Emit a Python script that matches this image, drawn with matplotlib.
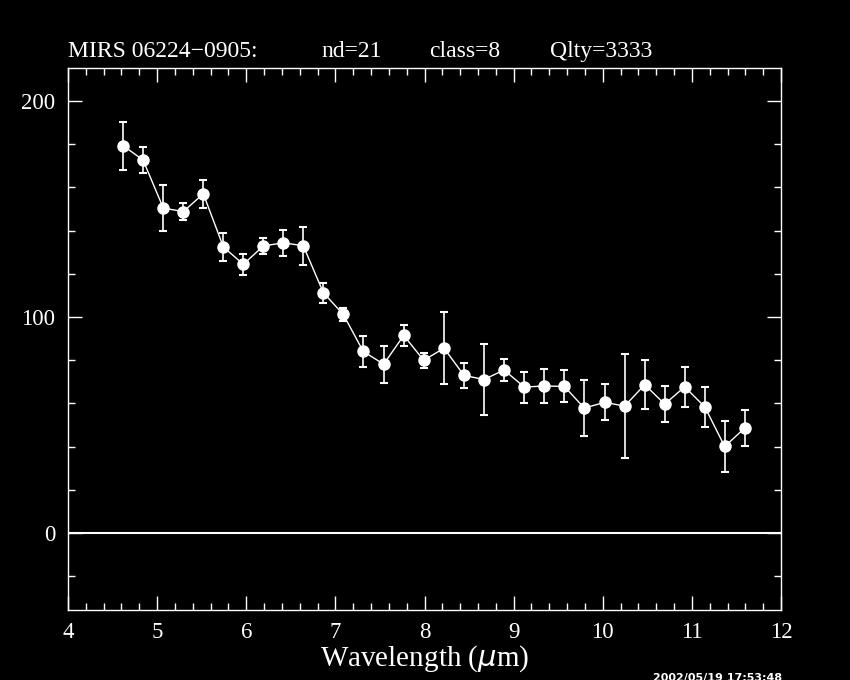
import numpy as np
import matplotlib.pyplot as plt
from matplotlib.ticker import MultipleLocator

# spectrum
wavelength = [4.620, 4.842, 5.069, 5.294, 5.518, 5.743, 5.967, 6.191, 6.416, 6.640,
              6.865, 7.089, 7.313, 7.542, 7.767, 7.991, 8.219, 8.443, 8.668, 8.892,
              9.120, 9.344, 9.569, 9.793, 10.022, 10.246, 10.471, 10.695, 10.919,
              11.144, 11.368, 11.593]
flux = [179.3, 172.7, 150.5, 148.8, 157.1, 132.5, 124.4, 132.9, 134.4, 133.0,
        111.3, 101.2, 84.1, 78.2, 91.5, 80.0, 85.6, 73.0, 71.1, 75.5,
        67.6, 68.1, 67.9, 57.9, 60.5, 58.8, 68.7, 59.7, 67.7, 58.5, 40.1, 48.6]
flux_err = [11.0, 6.2, 10.8, 3.8, 6.4, 6.5, 5.0, 3.8, 6.1, 8.9,
            4.6, 3.1, 7.0, 8.5, 5.0, 3.5, 16.7, 5.8, 16.5, 4.9,
            7.2, 8.0, 7.4, 12.8, 8.3, 24.0, 11.4, 8.5, 9.2, 9.3, 12.0, 8.4]

title_parts = ["MIRS 06224\u22120905:", "nd=21", "class=8", "Qlty=3333"]
title_x = [68, 321, 429, 550]   # left edge of each piece, px
stamp = "2002/05/19 17:53:48"

plt.rcParams['font.family'] = ['Liberation Serif', 'DejaVu Serif']

W, H = 850, 680
fig = plt.figure(figsize=(8.5, 6.8), dpi=100, facecolor='black')
ax = fig.add_axes([68/W, 70/H, 713/W, 542/H], facecolor='black')

ax.errorbar(wavelength, flux, yerr=flux_err, color='white', lw=1,
            marker='o', ms=8, mfc='white', mec='white',
            ecolor='white', elinewidth=1.2, capsize=3, capthick=1.5)
ax.axhline(0, color='white', lw=1.5)

ax.set_xlim(4, 12)
ax.set_ylim(-35.6, 215.3)
ax.xaxis.set_major_locator(MultipleLocator(1))
ax.xaxis.set_minor_locator(MultipleLocator(0.2))
ax.yaxis.set_major_locator(MultipleLocator(100))
ax.yaxis.set_minor_locator(MultipleLocator(20))
ax.tick_params(which='both', direction='in', top=True, right=True,
               colors='white', labelsize=16.5, width=1)
ax.tick_params(which='major', length=10, pad=9)
ax.tick_params(which='minor', length=5)
for s in ax.spines.values():
    s.set_color('white')
    s.set_linewidth(1)

ax.set_xlabel("Wavelength ($\\mu$m)", color='white', fontsize=21, labelpad=0)

for txt, px in zip(title_parts, title_x):
    fig.text(px/W, (H - 57)/H, txt, color='white', fontsize=17,
             ha='left', va='baseline')

fig.text(718/W, 2/H, stamp, color='white', fontsize=8, fontweight='bold',
         family='DejaVu Sans', ha='center', va='center')

plt.savefig("out.png", dpi=100, facecolor='black')
